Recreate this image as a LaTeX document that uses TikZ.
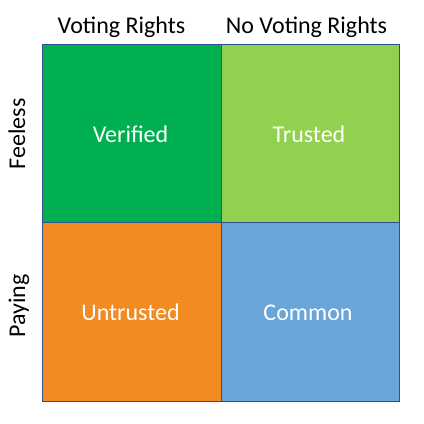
\documentclass[tikz,border=0pt]{standalone}
\usepackage{fontspec}
\setmainfont{Carlito}
\begin{document}
\begin{tikzpicture}[x=1pt,y=-1pt]
\useasboundingbox (0,0) rectangle (424,424);
\definecolor{cgreen}{HTML}{00B050}
\definecolor{clgreen}{HTML}{92D050}
\definecolor{corange}{HTML}{F28B22}
\definecolor{cblue}{HTML}{6AA5D9}
\definecolor{cborder}{HTML}{2F528F}
\tikzset{cell/.style={draw=cborder, line width=0.9pt},
  celltext/.style={text=white, anchor=base, font=\fontsize{24}{28}\selectfont},
  headtext/.style={text=black, anchor=base, font=\fontsize{24}{28}\selectfont}}
\fill[cgreen]  (42.5,44.5) rectangle (221.5,222.5);
\fill[clgreen] (221.5,44.5) rectangle (399.5,222.5);
\fill[corange] (42.5,222.5) rectangle (221.5,401);
\fill[cblue]   (221.5,222.5) rectangle (399.5,401);
\draw[cell] (42.5,44.5) rectangle (221.5,222.5);
\draw[cell] (221.5,44.5) rectangle (399.5,222.5);
\draw[cell] (42.5,222.5) rectangle (221.5,401);
\draw[cell] (221.5,222.5) rectangle (399.5,401);
\node[celltext] (v) at (130.5,142) {Verified};
\node[celltext] (t) at (309,142) {Trusted};
\node[celltext] (u) at (130.5,320) {Untrusted};
\node[celltext] (c) at (308,320) {Common};
\node[headtext] (h1) at (121.5,33) {Voting Rights};
\node[headtext] (h2) at (306.5,33) {No Voting Rights};
\node[headtext, rotate=90] (r1) at (25,134) {Feeless};
\node[headtext, rotate=90] (r2) at (25,306) {Paying};
\end{tikzpicture}
\end{document}
